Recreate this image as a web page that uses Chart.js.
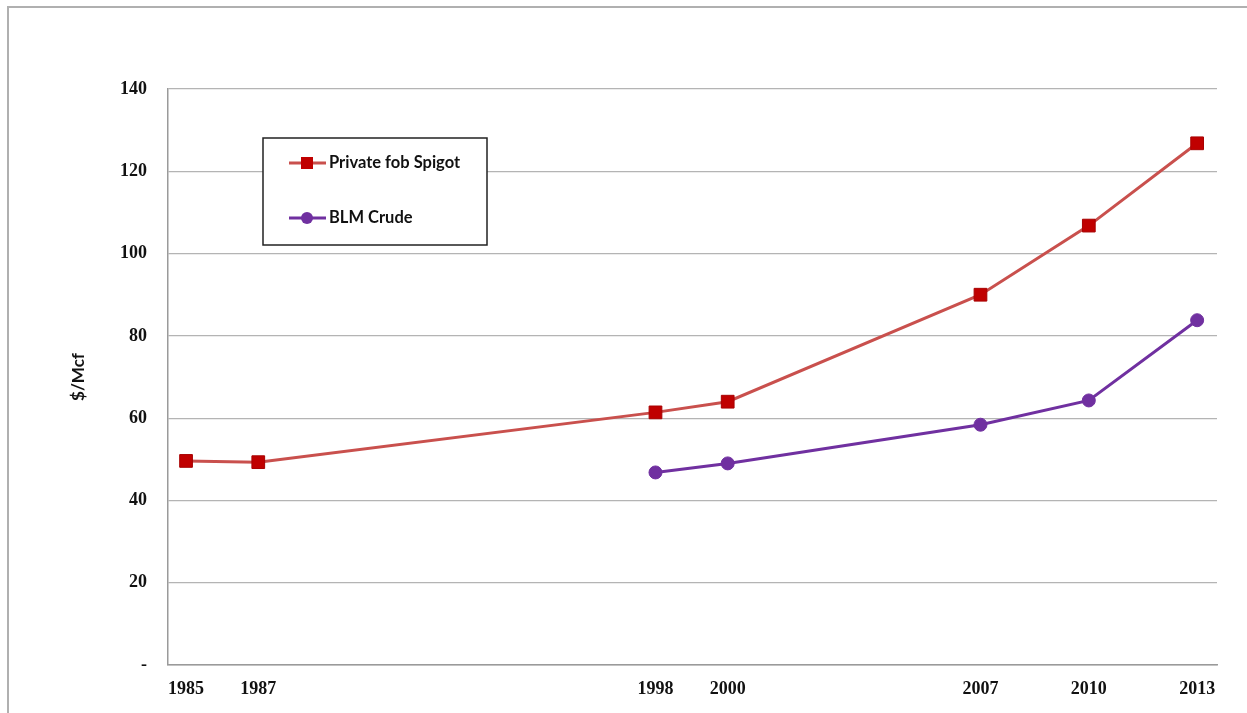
<!DOCTYPE html>
<html>
<head>
<meta charset="utf-8">
<script src="https://cdn.jsdelivr.net/npm/chart.js@4/dist/chart.umd.min.js"></script>
<style>
  html, body { margin: 0; padding: 0; background: #fff; }
  #wrap { position: relative; width: 1247px; height: 713px; overflow: hidden; }
  #frame { position: absolute; left: 7px; top: 6px; width: 1300px; height: 800px;
           border-top: 2px solid #b0b0b0; border-left: 2px solid #b0b0b0; }
  canvas { position: absolute; left: 0; top: 0; }
</style>
</head>
<body>
<div id="wrap">
  <div id="frame"></div>
  <canvas id="c" width="1247" height="713"></canvas>
</div>
<script>
// Years on the horizontal axis (ticks only at these years)
const years = [1985, 1987, 1998, 2000, 2007, 2010, 2013];
// Helium price, $/Mcf
const privateFobSpigot = [49.6, 49.3, 61.4, 64.0, 90.0, 106.8, 126.8];
const blmCrude = [null, null, 46.8, 49.0, 58.4, 64.3, 83.8];
const yTicks = [0, 20, 40, 60, 80, 100, 120, 140];
const seriesNames = ['Private fob Spigot', 'BLM Crude'];

const RED_LINE = '#c9504d';
const RED_MARK = '#c00000';
const PURPLE = '#7030a0';

function toPoints(vals) {
  return years.map((y, i) => ({ x: y, y: vals[i] })).filter(p => p.y !== null);
}

// Boxed legend drawn inside the plot area
const boxLegend = {
  id: 'boxLegend',
  afterDraw(chart) {
    const ctx = chart.ctx;
    const x0 = 263, y0 = 138, w = 224, h = 107;
    ctx.save();
    ctx.fillStyle = '#fff';
    ctx.fillRect(x0, y0, w, h);
    ctx.strokeStyle = '#222';
    ctx.lineWidth = 1.5;
    ctx.strokeRect(x0, y0, w, h);
    const rows = [
      { y: 163, line: RED_LINE, fill: RED_MARK, shape: 'rect' },
      { y: 218, line: PURPLE, fill: PURPLE, shape: 'circle' }
    ];
    rows.forEach((r, i) => {
      ctx.strokeStyle = r.line;
      ctx.lineWidth = 3;
      ctx.beginPath();
      ctx.moveTo(289, r.y);
      ctx.lineTo(326, r.y);
      ctx.stroke();
      ctx.fillStyle = r.fill;
      if (r.shape === 'rect') {
        ctx.fillRect(301, r.y - 6, 12, 12);
      } else {
        ctx.beginPath();
        ctx.arc(307, r.y, 6, 0, Math.PI * 2);
        ctx.fill();
      }
      ctx.fillStyle = '#111';
      ctx.font = 'bold 16.5px Lato, "Open Sans", sans-serif';
      ctx.textBaseline = 'middle';
      ctx.textAlign = 'left';
      ctx.fillText(seriesNames[i], 329, r.y);
    });
    ctx.restore();
  }
};

new Chart(document.getElementById('c'), {
  type: 'line',
  data: {
    datasets: [
      {
        label: seriesNames[0],
        data: toPoints(privateFobSpigot),
        borderColor: RED_LINE,
        borderWidth: 3,
        pointStyle: 'rect',
        pointRadius: 9,
        pointBackgroundColor: RED_MARK,
        pointBorderColor: '#a80000',
        pointBorderWidth: 1,
        tension: 0
      },
      {
        label: seriesNames[1],
        data: toPoints(blmCrude),
        borderColor: PURPLE,
        borderWidth: 3,
        pointStyle: 'circle',
        pointRadius: 6.5,
        pointBackgroundColor: PURPLE,
        pointBorderColor: PURPLE,
        pointBorderWidth: 1,
        tension: 0
      }
    ]
  },
  options: {
    responsive: false,
    animation: false,
    devicePixelRatio: 1,
    layout: { padding: { top: 89, right: 30, left: 68, bottom: 0 } },
    plugins: { legend: { display: false }, tooltip: { enabled: false } },
    scales: {
      x: {
        type: 'linear',
        min: 1984.5,
        max: 2013.55,
        afterBuildTicks: s => { s.ticks = years.map(v => ({ value: v })); },
        afterFit: s => { s.height = 48; },
        grid: { display: false, drawTicks: false },
        border: { display: true, color: '#9a9a9a', width: 1.5 },
        ticks: {
          padding: 14,
          color: '#111',
          maxRotation: 0,
          autoSkip: false,
          font: { family: '"Liberation Serif", serif', size: 18, weight: 'bold' },
          callback: v => String(v)
        }
      },
      y: {
        min: 0,
        max: 140,
        afterBuildTicks: s => { s.ticks = yTicks.map(v => ({ value: v })); },
        afterFit: s => { s.width = 100; },
        grid: { color: '#b4b4b4', lineWidth: 1.2, drawTicks: false },
        border: { display: true, color: '#9a9a9a', width: 1.5 },
        ticks: {
          padding: 21,
          color: '#111',
          font: { family: '"Liberation Serif", serif', size: 18, weight: 'bold' },
          callback: v => (v === 0 ? '-' : String(v))
        },
        title: {
          display: true,
          text: '$/Mcf',
          color: '#111',
          padding: 0,
          font: { family: 'Lato, "Open Sans", sans-serif', size: 17, weight: 'bold' }
        }
      }
    }
  },
  plugins: [boxLegend]
});
</script>
</body>
</html>
